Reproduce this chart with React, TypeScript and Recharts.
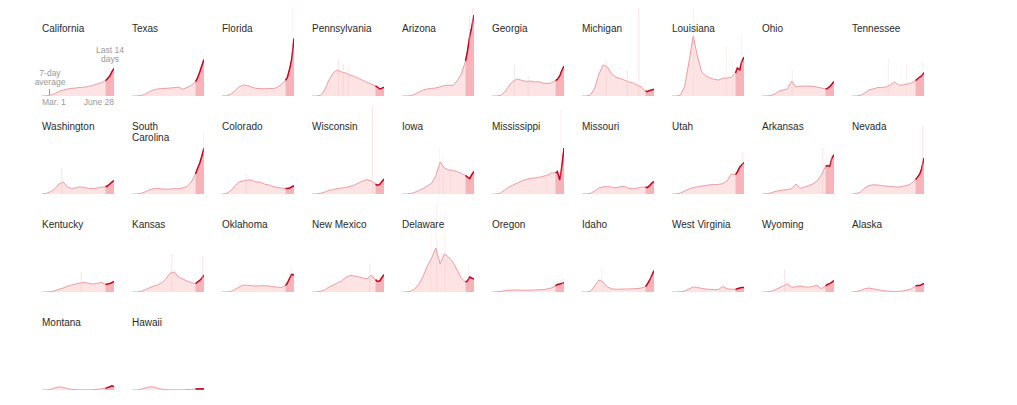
import { ComposedChart, Area, Bar, XAxis, YAxis } from 'recharts'

// days since Mar. 1; the last 14 days (June 14 - June 28) are drawn in red
const DAYS = [0, 7, 14, 21, 28, 35, 42, 49, 56, 63, 70, 77, 84, 91, 98, 105, 108, 112, 115, 119]
const RECENT_START = 105
const LAST_DAY = 119
const Y_MAX = 48

const STATES = [
  'California', 'Texas', 'Florida', 'Pennsylvania', 'Arizona', 'Georgia', 'Michigan', 'Louisiana', 'Ohio', 'Tennessee',
  'Washington', 'South Carolina', 'Colorado', 'Wisconsin', 'Iowa', 'Mississippi', 'Missouri', 'Utah', 'Arkansas', 'Nevada',
  'Kentucky', 'Kansas', 'Oklahoma', 'New Mexico', 'Delaware', 'Oregon', 'Idaho', 'West Virginia', 'Wyoming', 'Alaska',
  'Montana', 'Hawaii',
]

// 7-day average of new cases per 100,000 people, one value per entry of DAYS
const california = [0, 0.1, 0.4, 1.2, 2.3, 3.0, 3.5, 3.8, 4.0, 4.3, 4.4, 4.8, 5.3, 6.0, 6.6, 7.6, 8.6, 10, 11.8, 13.8]
const texas = [0, 0, 0.2, 0.8, 2.0, 3.0, 3.5, 3.7, 3.8, 4.0, 4.2, 4.4, 3.4, 4.3, 5.3, 7.2, 8.8, 12, 14.7, 18.3]
const florida = [0, 0.1, 0.8, 2.5, 4.5, 5.5, 5.2, 4.5, 3.8, 3.7, 3.6, 3.8, 3.7, 4.2, 5.8, 7.8, 9.3, 13.8, 18, 28.8]
const pennsylvania = [0, 0, 0.3, 3, 8, 11.5, 13, 12, 11.5, 10.5, 9.8, 8.8, 7.8, 6.8, 6, 5, 4.5, 3.5, 3.8, 4.4]
const arizona = [0, 0, 0.2, 0.8, 2, 3, 3.5, 3.8, 4, 4.6, 5.2, 5.4, 5.2, 7.5, 11, 17.5, 22, 30, 34, 40.5]
const georgia = [0, 0, 0.3, 2, 5, 7.5, 8.5, 7.8, 7.3, 7.5, 7, 7.2, 6.5, 6.2, 6.5, 7.7, 8.3, 10, 12.5, 15]
const michigan = [0, 0, 0.5, 4, 11, 15.5, 14.5, 11, 9.5, 8.8, 8, 7, 6.5, 5.5, 4.5, 2.5, 2.2, 2.8, 3, 3.4]
const louisiana = [0, 0, 0.5, 5, 17, 30, 20, 12, 10, 9, 8.3, 8, 8.8, 9, 9.3, 11.5, 14, 13, 17, 19.5]
const ohio = [0, 0, 0.2, 1, 2.5, 3, 3.5, 7.5, 4.5, 4.8, 5, 5, 4.8, 4.5, 4, 3.5, 3.8, 4.7, 5.8, 7.2]
const tennessee = [0, 0, 0.3, 1.5, 3, 3.5, 4.2, 4.3, 4.5, 5.5, 7, 5.5, 5.5, 6, 6.5, 7.7, 8.5, 9.5, 10, 11.7]
const washington = [0, 0.3, 1.2, 2.5, 5, 6, 3.5, 2.8, 3, 3.6, 3.2, 2.8, 2.7, 3, 3.4, 3.6, 4, 5, 5.8, 6.7]
const southCarolina = [0, 0, 0.2, 1, 2, 2.6, 2.8, 2.5, 2.4, 2.5, 2.6, 2.7, 3, 3.8, 6, 10, 12.5, 15.5, 18.5, 23]
const colorado = [0, 0.2, 1.5, 4, 6, 6.5, 7, 7, 6, 6, 5, 4.5, 3.8, 3.3, 3, 2.8, 2.8, 3, 3.5, 4.2]
const wisconsin = [0, 0, 0.3, 1, 1.8, 2.2, 2.8, 3, 3.3, 3.8, 4.5, 5.5, 6.5, 7.2, 6.5, 5, 4.3, 4.8, 6, 7.5]
const iowa = [0, 0, 0.2, 0.8, 1.8, 2.8, 4, 5.5, 9, 16, 13, 12, 11.8, 11.2, 10.3, 9.3, 8.5, 7.7, 9.5, 11.3]
const mississippi = [0, 0, 0.5, 2, 3.5, 4.5, 5.5, 6.5, 7.2, 7.8, 8, 8.3, 8.8, 9.3, 10.5, 10.5, 11.2, 7, 13, 23]
const missouri = [0, 0, 0.3, 1.5, 3, 3.6, 3.7, 3.4, 3.1, 3.6, 3.9, 2.9, 2.6, 2.9, 3.4, 3.5, 3.2, 4.3, 5.3, 6.3]
const utah = [0, 0, 0.5, 1.5, 2.5, 3.2, 3.6, 4, 4.3, 4.6, 4.7, 4.8, 5.2, 6.5, 10, 9.7, 11, 13.5, 14.5, 15.8]
const arkansas = [0, 0.1, 0.5, 1.2, 1.6, 2, 2.2, 2.6, 5, 2.8, 3.5, 4.2, 5, 6.5, 9.5, 13.8, 14.2, 13.8, 17.5, 19.7]
const nevada = [0, 0.2, 1, 3, 4.2, 4.6, 4.5, 4.2, 4, 3.8, 3.6, 3.4, 3.8, 4.2, 5.2, 7.3, 8.3, 10, 12.5, 18]
const kentucky = [0, 0, 0.2, 0.6, 1.3, 2, 2.8, 3.5, 4, 4.5, 4.8, 4.3, 4, 4.3, 4.8, 3.8, 4, 4.2, 4.6, 5.3]
const kansas = [0, 0, 0.2, 1, 2, 2.8, 3.5, 4.5, 6.5, 9.5, 10, 7.5, 6.5, 5.5, 4.7, 4.2, 5, 5.8, 6.8, 8.5]
const oklahoma = [0, 0, 0.2, 1.2, 2.5, 3.5, 3.3, 3.1, 3, 3.1, 3.2, 3, 2.7, 2.4, 2.3, 3.2, 4.5, 7, 8.8, 8.6]
const newMexico = [0, 0, 0.3, 1, 2.5, 3.4, 4.5, 5.6, 7.2, 8.3, 8, 7.6, 7, 6.6, 8.5, 6.2, 5.3, 5.5, 7, 8.7]
const delaware = [0, 0, 0.3, 1.5, 4, 8, 13, 17, 22, 14, 19, 17.5, 15, 11, 7, 5, 5.5, 7.5, 7, 6.5]
const oregon = [0, 0.1, 0.3, 0.6, 0.9, 1, 1, 0.9, 0.9, 0.9, 1, 1.1, 1.2, 1.5, 2, 3, 3.8, 4, 4.2, 4.8]
const idaho = [0, 0, 0.3, 3, 6, 5, 2.5, 1.6, 1.4, 1.4, 1.5, 1.5, 1.6, 1.7, 2, 2.7, 4, 6, 8, 10.7]
const westVirginia = [0, 0, 0.1, 0.5, 1.5, 2.5, 2.3, 1.8, 1.5, 1.3, 1.2, 1.3, 2.8, 1.6, 1.4, 1.3, 1.6, 2, 2.2, 2.3]
const wyoming = [0, 0, 0.3, 1, 2, 3, 4, 2.3, 2.6, 3.1, 2.5, 2.4, 2.8, 3.4, 1.6, 3, 3.8, 4.2, 4.8, 5.7]
const alaska = [0, 0.2, 0.8, 1.6, 2, 1.6, 1.2, 0.8, 0.5, 0.3, 0.3, 0.3, 0.5, 1, 1.5, 3, 3.3, 3.2, 3.7, 4.3]
const montana = [0, 0, 0.3, 1, 1.6, 1.3, 0.7, 0.3, 0.2, 0.1, 0.1, 0.1, 0.2, 0.3, 0.6, 0.9, 1.2, 1.6, 2.1, 1.8]
const hawaii = [0, 0, 0.3, 1, 1.5, 1.6, 0.9, 0.4, 0.2, 0.1, 0.1, 0.1, 0.1, 0.2, 0.3, 0.5, 0.6, 0.5, 0.6, 0.5]

const SERIES: Record<string, number[]> = {
  California: california, Texas: texas, Florida: florida, Pennsylvania: pennsylvania, Arizona: arizona,
  Georgia: georgia, Michigan: michigan, Louisiana: louisiana, Ohio: ohio, Tennessee: tennessee,
  Washington: washington, 'South Carolina': southCarolina, Colorado: colorado, Wisconsin: wisconsin, Iowa: iowa,
  Mississippi: mississippi, Missouri: missouri, Utah: utah, Arkansas: arkansas, Nevada: nevada,
  Kentucky: kentucky, Kansas: kansas, Oklahoma: oklahoma, 'New Mexico': newMexico, Delaware: delaware,
  Oregon: oregon, Idaho: idaho, 'West Virginia': westVirginia, Wyoming: wyoming, Alaska: alaska,
  Montana: montana, Hawaii: hawaii,
}

// single-day reports that stick out above the average: [state, day, cases per 100k]
const SPIKES: [string, number, number][] = [
  ['Florida', 116, 48], ['Pennsylvania', 44, 18], ['Pennsylvania', 52, 16], ['Pennsylvania', 60, 14],
  ['Arizona', 117, 48], ['Arizona', 112, 40], ['Georgia', 37, 15.5], ['Georgia', 60, 10],
  ['Michigan', 94, 44], ['Michigan', 75, 13], ['Michigan', 40, 18],
  ['Louisiana', 36, 48], ['Louisiana', 90, 24.7], ['Louisiana', 115, 31], ['Louisiana', 100, 18],
  ['Ohio', 50, 13], ['Tennessee', 60, 18.8], ['Tennessee', 90, 16], ['Tennessee', 116, 17],
  ['Washington', 33, 13], ['South Carolina', 118, 31], ['Colorado', 40, 10],
  ['Wisconsin', 100, 44], ['Iowa', 62, 23], ['Iowa', 68, 19], ['Iowa', 80, 14],
  ['Mississippi', 114, 42], ['Mississippi', 90, 12],
  ['Utah', 117, 21], ['Arkansas', 101, 23], ['Arkansas', 115, 20], ['Nevada', 117, 34],
  ['Kentucky', 65, 10], ['Kansas', 66, 19], ['Kansas', 117, 18], ['Oklahoma', 114, 13],
  ['New Mexico', 96, 14], ['Delaware', 57, 44], ['Delaware', 71, 40], ['Delaware', 48, 30], ['Delaware', 110, 13],
  ['Oregon', 117, 7], ['Idaho', 33, 13], ['Idaho', 114, 13], ['Wyoming', 38, 11.5],
]

const COLS = 10
const COL_STEP = 90
const ROW_STEP = 98
const CHART_W = 72
const CHART_H = 96

type Row = { day: number; avg: number | null; recent: number | null; daily: number | null }

function buildRows(name: string): Row[] {
  const avg = SERIES[name]
  const rows = new Map<number, Row>()
  DAYS.forEach((d, i) => {
    rows.set(d, { day: d, avg: avg[i], recent: d >= RECENT_START ? avg[i] : null, daily: null })
  })
  SPIKES.filter((s) => s[0] === name).forEach(([, d, v]) => {
    const r = rows.get(d) ?? { day: d, avg: null, recent: null, daily: null }
    r.daily = v
    rows.set(d, r)
  })
  return [...rows.values()].sort((a, b) => a.day - b.day)
}

function StatePanel({ name, index }: { name: string; index: number }) {
  const col = index % COLS
  const row = Math.floor(index / COLS)
  const left = 34 + col * COL_STEP
  const top = -8 + row * ROW_STEP
  const data = buildRows(name)
  return (
    <>
      <div style={{ position: 'absolute', left, top }}>
        <ComposedChart width={CHART_W} height={CHART_H} data={data} margin={{ top: 0, right: 0, bottom: 0, left: 0 }}>
          <XAxis type="number" dataKey="day" domain={[0, LAST_DAY]} hide />
          <YAxis domain={[0, Y_MAX]} hide allowDataOverflow />
          <Bar dataKey="daily" fill="#f4c3c7" fillOpacity={0.45} barSize={1} isAnimationActive={false} />
          <Area
            type="linear"
            dataKey="avg"
            stroke="#f09ca2"
            strokeWidth={1}
            fill="#fde3e3"
            fillOpacity={1}
            connectNulls
            dot={false}
            activeDot={false}
            isAnimationActive={false}
          />
          <Area
            type="linear"
            dataKey="recent"
            stroke="#c70420"
            strokeWidth={1.5}
            fill="#f6b3b8"
            fillOpacity={1}
            connectNulls
            dot={false}
            activeDot={false}
            isAnimationActive={false}
          />
        </ComposedChart>
      </div>
      <div
        style={{
          position: 'absolute',
          left,
          top: 14.5 + row * ROW_STEP,
          width: 64,
          fontSize: 10,
          lineHeight: '11px',
          color: '#2a2a2a',
        }}
      >
        {name}
      </div>
    </>
  )
}

const note = { position: 'absolute' as const, fontSize: 8.5, lineHeight: '9px', color: '#999', whiteSpace: 'nowrap' as const }

export default function App() {
  return (
    <div
      style={{
        position: 'relative',
        width: 1000,
        height: 390,
        fontFamily: '"Liberation Sans", Arial, sans-serif',
      }}
    >
      {STATES.map((s, i) => (
        <StatePanel key={s} name={s} index={i} />
      ))}
      <div style={{ ...note, left: 22, top: 61, width: 40, textAlign: 'center' }}>
        7-day
        <br />
        average
      </div>
      <div style={{ position: 'absolute', left: 41, top: 81, width: 0, height: 6, borderLeft: '1px solid #999' }} />
      <div style={{ ...note, left: 82, top: 38, width: 40, textAlign: 'center' }}>
        Last 14
        <br />
        days
      </div>
      <div style={{ ...note, left: 34, top: 90 }}>Mar. 1</div>
      <div style={{ ...note, left: 66, top: 90, width: 40, textAlign: 'right' }}>June 28</div>
    </div>
  )
}
